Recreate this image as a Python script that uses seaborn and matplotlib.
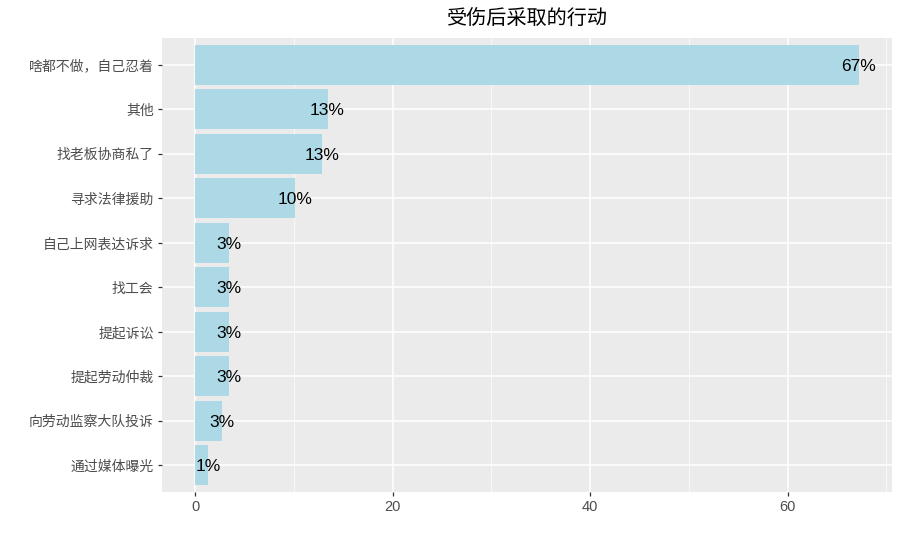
import matplotlib
matplotlib.use("Agg")
import matplotlib.pyplot as plt
import seaborn as sns
import pandas as pd
from matplotlib.ticker import MultipleLocator

categories = ["啥都不做，自己忍着", "其他", "找老板协商私了", "寻求法律援助", "自己上网表达诉求",
              "找工会", "提起诉讼", "提起劳动仲裁", "向劳动监察大队投诉", "通过媒体曝光"]
values = [67.2, 13.4, 12.8, 10.1, 3.4, 3.4, 3.4, 3.4, 2.7, 1.3]
title = "受伤后采取的行动"
x_ticks = [0, 20, 40, 60]

sns.set_theme(style="darkgrid")
plt.rcParams['font.family'] = ['Noto Sans CJK SC', 'DejaVu Sans']

df = pd.DataFrame({"cat": categories, "val": values})

fig = plt.figure(figsize=(9, 5.48), dpi=100)
ax = fig.add_axes([162/900, 1 - 492/548, (892 - 162)/900, (492 - 38)/548])
ax.set_facecolor("#EBEBEB")

sns.barplot(data=df, y="cat", x="val", orient="h", color="#ADD8E6", width=0.9,
            saturation=1, ax=ax, zorder=2, linewidth=0, edgecolor="none")

for i, v in enumerate(values):
    ax.text(v, i + 0.03, f"{round(v)}%", ha="center", va="center", fontsize=12.5,
            color="black", family=["Liberation Sans", "DejaVu Sans"], zorder=3)

span = max(values)
ax.set_xlim(-0.05 * span, span * 1.05)
ax.set_ylim(len(categories) - 0.4, -0.6)
ax.set_xticks(x_ticks)
ax.xaxis.set_minor_locator(MultipleLocator(10))
ax.grid(True, which="major", color="white", linewidth=1.1, zorder=0)
ax.grid(True, which="minor", axis="x", color="white", linewidth=0.5, zorder=0)
ax.set_axisbelow(True)
for s in ax.spines.values():
    s.set_visible(False)

ax.set_xlabel("")
ax.set_ylabel("")
ax.tick_params(axis="both", which="major", length=3, width=0.9, color="#333333",
               labelcolor="#4D4D4D", pad=3, bottom=True, left=True)
ax.tick_params(axis="x", which="minor", length=0)
ax.tick_params(axis="x", labelsize=10.5)
ax.tick_params(axis="y", labelsize=10)
for lbl in ax.get_xticklabels():
    lbl.set_family(["Liberation Sans", "DejaVu Sans"])

fig.text((162 + 892) / 2 / 900, 1 - 19 / 548, title, ha="center", va="center",
         fontsize=14.5, color="black")

fig.savefig("out.png", dpi=100)
